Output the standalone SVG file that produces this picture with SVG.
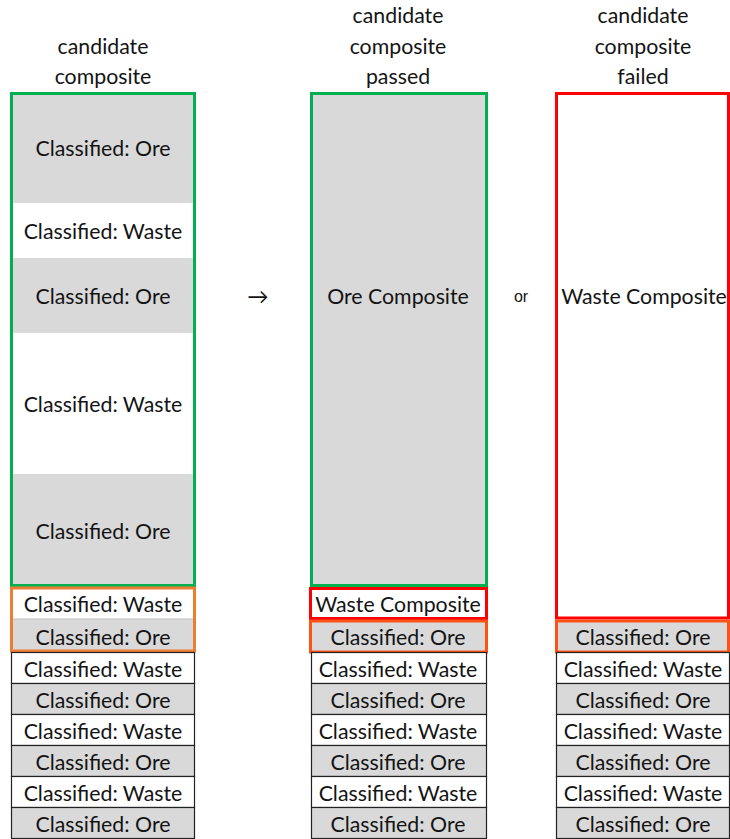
<svg xmlns="http://www.w3.org/2000/svg" width="730" height="839" viewBox="0 0 730 839">
<style>
text{font-family:Lato,"Open Sans",sans-serif;font-size:21.3px;fill:#141414;text-anchor:middle}
.g{fill:#d9d9d9}
.w{fill:#ffffff}
.cell{stroke:#222;stroke-width:1.2}
.sep{stroke:#bfbfbf;stroke-width:1}
.green{fill:none;stroke:#00b050;stroke-width:3}
.red{fill:none;stroke:#ff0000;stroke-width:3}
.or1{fill:none;stroke:#ed7d31;stroke-width:3}
.or2{fill:none;stroke:#fc5216;stroke-width:3}
.small{font-family:"Liberation Sans",Arial,sans-serif;font-size:16px}
</style>
<rect width="730" height="839" fill="#ffffff"/>
<g id="headers">
<text x="103" y="53.5">candidate</text>
<text x="103" y="83.5">composite</text>
<text x="398" y="22.5">candidate</text>
<text x="398" y="53.5">composite</text>
<text x="398" y="83.5">passed</text>
<text x="643" y="22.5">candidate</text>
<text x="643" y="53.5">composite</text>
<text x="643" y="83.5">failed</text>
</g>
<g id="col1">
<rect class="g" x="11" y="93" width="184" height="110"/>
<rect class="w" x="11" y="203" width="184" height="55"/>
<rect class="g" x="11" y="258" width="184" height="75"/>
<rect class="w" x="11" y="333" width="184" height="141"/>
<rect class="g" x="11" y="474" width="184" height="112"/>
<text x="103" y="155.5">Classified: Ore</text>
<text x="103" y="238.5">Classified: Waste</text>
<text x="103" y="303.5">Classified: Ore</text>
<text x="103" y="411.5">Classified: Waste</text>
<text x="103" y="538.5">Classified: Ore</text>
<rect class="green" x="11.5" y="93.5" width="183" height="492"/>
<rect class="w" x="11" y="588" width="184" height="31"/>
<rect class="g" x="11" y="619" width="184" height="32"/>
<line class="sep" x1="11" y1="619" x2="195" y2="619"/>
<text x="103" y="611.5">Classified: Waste</text>
<text x="103" y="644.5">Classified: Ore</text>
<rect class="or1" x="11.5" y="588" width="183" height="63"/>
</g>
<g id="col2">
<rect class="g" x="311" y="93" width="176" height="493"/>
<text x="398" y="303.5">Ore Composite</text>
<rect class="green" x="311.5" y="93.5" width="175" height="492"/>
<rect class="w" x="311" y="588" width="176" height="31"/>
<text x="398" y="611.5">Waste Composite</text>
<rect class="red" x="310.5" y="588.5" width="176" height="30"/>
<rect class="g" x="311" y="621" width="176" height="31"/>
<text x="398" y="644.5">Classified: Ore</text>
<rect class="or2" x="310.5" y="621" width="176" height="31"/>
</g>
<g id="col3">
<rect class="w" x="556" y="93" width="174" height="526"/>
<text x="644" y="303.5">Waste Composite</text>
<rect class="red" x="556.5" y="93.5" width="172" height="524.5"/>
<rect class="g" x="556" y="621" width="174" height="31"/>
<text x="643" y="644.5">Classified: Ore</text>
<rect class="or2" x="556.5" y="621" width="172" height="31"/>
</g>
<g id="rows">
<g id="rows1">
<rect class="w cell" x="11.5" y="652.5" width="183" height="31"/>
<rect class="g cell" x="11.5" y="683.5" width="183" height="31"/>
<rect class="w cell" x="11.5" y="714.5" width="183" height="31"/>
<rect class="g cell" x="11.5" y="745.5" width="183" height="31"/>
<rect class="w cell" x="11.5" y="776.5" width="183" height="31"/>
<rect class="g cell" x="11.5" y="807.5" width="183" height="31"/>
<text x="103" y="676.5">Classified: Waste</text>
<text x="103" y="707.5">Classified: Ore</text>
<text x="103" y="738.5">Classified: Waste</text>
<text x="103" y="769.5">Classified: Ore</text>
<text x="103" y="800.5">Classified: Waste</text>
<text x="103" y="831.5">Classified: Ore</text>
</g>
<g id="rows2">
<rect class="w cell" x="311.5" y="652.5" width="175" height="31"/>
<rect class="g cell" x="311.5" y="683.5" width="175" height="31"/>
<rect class="w cell" x="311.5" y="714.5" width="175" height="31"/>
<rect class="g cell" x="311.5" y="745.5" width="175" height="31"/>
<rect class="w cell" x="311.5" y="776.5" width="175" height="31"/>
<rect class="g cell" x="311.5" y="807.5" width="175" height="31"/>
<text x="398" y="676.5">Classified: Waste</text>
<text x="398" y="707.5">Classified: Ore</text>
<text x="398" y="738.5">Classified: Waste</text>
<text x="398" y="769.5">Classified: Ore</text>
<text x="398" y="800.5">Classified: Waste</text>
<text x="398" y="831.5">Classified: Ore</text>
</g>
<g id="rows3">
<rect class="w cell" x="556.5" y="652.5" width="173" height="31"/>
<rect class="g cell" x="556.5" y="683.5" width="173" height="31"/>
<rect class="w cell" x="556.5" y="714.5" width="173" height="31"/>
<rect class="g cell" x="556.5" y="745.5" width="173" height="31"/>
<rect class="w cell" x="556.5" y="776.5" width="173" height="31"/>
<rect class="g cell" x="556.5" y="807.5" width="173" height="31"/>
<text x="643" y="676.5">Classified: Waste</text>
<text x="643" y="707.5">Classified: Ore</text>
<text x="643" y="738.5">Classified: Waste</text>
<text x="643" y="769.5">Classified: Ore</text>
<text x="643" y="800.5">Classified: Waste</text>
<text x="643" y="831.5">Classified: Ore</text>
</g>
</g>
<g id="connectors">
<text x="258" y="303.5">→</text>
<text class="small" x="521" y="301.5">or</text>
</g>
</svg>
